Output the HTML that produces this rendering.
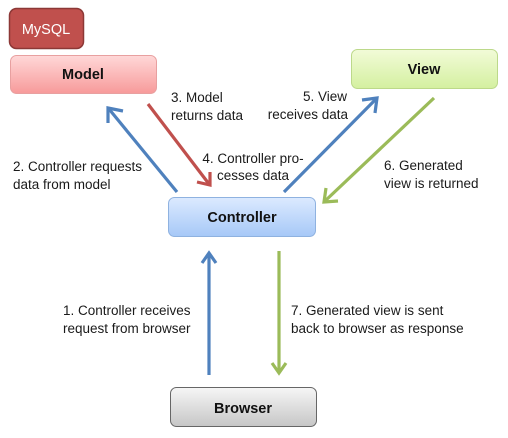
<!DOCTYPE html>
<html><head><meta charset="utf-8"><style>
html,body{margin:0;padding:0;background:#fff;}
svg{display:block;}
text{font-family:"Liberation Sans",sans-serif;font-size:13.5px;fill:#1a1a1a;}
.n{font-size:14.5px;font-weight:bold;fill:#111;text-anchor:middle;}
</style></head><body>
<svg width="508" height="438" viewBox="0 0 508 438" xmlns="http://www.w3.org/2000/svg">
<defs>
<linearGradient id="gr" x1="0" y1="0" x2="0" y2="1"><stop offset="0" stop-color="#ffd8d8"/><stop offset="1" stop-color="#f79a9a"/></linearGradient>
<linearGradient id="gg" x1="0" y1="0" x2="0" y2="1"><stop offset="0" stop-color="#f2fbd8"/><stop offset="1" stop-color="#d4f0a0"/></linearGradient>
<linearGradient id="gb" x1="0" y1="0" x2="0" y2="1"><stop offset="0" stop-color="#dceaff"/><stop offset="1" stop-color="#a6c8f7"/></linearGradient>
<linearGradient id="gy" x1="0" y1="0" x2="0" y2="1"><stop offset="0" stop-color="#f6f6f6"/><stop offset="1" stop-color="#c6c6c6"/></linearGradient>
</defs>
<rect x="9.5" y="8.5" width="74" height="40" rx="7" fill="#c0504d" stroke="#8c3836" stroke-width="1.5"/>
<text x="46" y="34" style="font-size:14.5px;fill:#fff;text-anchor:middle">MySQL</text>
<rect x="10.5" y="55.5" width="146" height="38" rx="6" fill="url(#gr)" stroke="#e8a0a0"/>
<text class="n" x="83" y="79">Model</text>
<rect x="351.5" y="49.5" width="146" height="39" rx="6" fill="url(#gg)" stroke="#bcd98a"/>
<text class="n" x="424" y="74">View</text>
<rect x="168.5" y="197.5" width="147" height="39" rx="6" fill="url(#gb)" stroke="#8fb2e0"/>
<text class="n" x="242" y="222">Controller</text>
<rect x="170.5" y="387.5" width="146" height="39" rx="6" fill="url(#gy)" stroke="#666"/>
<text class="n" x="243" y="413">Browser</text>

<g stroke-width="3.2" fill="none" stroke-linecap="butt">
<g stroke="#4f81bd">
<line x1="177" y1="192" x2="109" y2="109"/><polyline points="108,123 108,108 123,111"/>
<line x1="284" y1="192" x2="376" y2="99"/><polyline points="362,100 377,98 375,113"/>
<line x1="209" y1="375" x2="209" y2="254"/><polyline points="202,263 209,253 216,263"/>
</g>
<g stroke="#c0504d">
<line x1="148" y1="104" x2="209" y2="184"/><polyline points="197,182 210,185 210,172"/>
</g>
<g stroke="#9bbb59">
<line x1="434" y1="98" x2="325" y2="201"/><polyline points="326,188 324,202 338,201"/>
<line x1="279" y1="251" x2="279" y2="372"/><polyline points="272,363 279,373 286,363"/>
</g>
</g>

<text x="171" y="102">3. Model</text>
<text x="171" y="120">returns data</text>
<text x="13" y="171">2. Controller requests</text>
<text x="13" y="189">data from model</text>
<text x="253" y="163" text-anchor="middle">4. Controller pro-</text>
<text x="253" y="180" text-anchor="middle">cesses data</text>
<text x="347" y="101" text-anchor="end">5. View</text>
<text x="348" y="119" text-anchor="end">receives data</text>
<text x="384" y="170">6. Generated</text>
<text x="384" y="188">view is returned</text>
<text x="63" y="315">1. Controller receives</text>
<text x="63" y="333">request from browser</text>
<text x="291" y="315">7. Generated view is sent</text>
<text x="291" y="333">back to browser as response</text>
</svg>
</body></html>
